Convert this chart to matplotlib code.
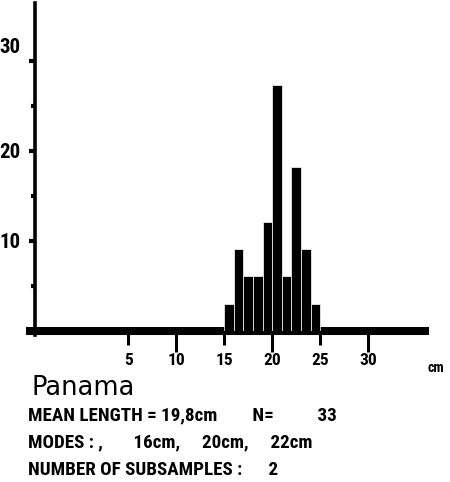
import matplotlib
matplotlib.use('Agg')
import matplotlib.pyplot as plt
from matplotlib import font_manager as fm
from matplotlib.ticker import FixedLocator, FixedFormatter
from matplotlib.transforms import ScaledTranslation

# ---- data ----
lengths_cm = [15, 16, 17, 18, 19, 20, 21, 22, 23, 24]
percent = [3.03, 9.09, 6.06, 6.06, 12.12, 27.27, 6.06, 18.18, 9.09, 3.03]
xticks_major = [10, 20, 30]
xticks_minor = [5, 15, 25]
yticks_major = [10, 20, 30]
yticks_minor = [5, 15, 25]
title = "Panama"
info_lines = ["MEAN LENGTH = 19,8cm        N=          33",
              "MODES : ,       16cm,     20cm,     22cm",
              "NUMBER OF SUBSAMPLES :      2"]
unit_label = "cm"

# pick a condensed font if one is installed
names = {f.name for f in fm.fontManager.ttflist}
cond_family = 'DejaVu Sans'
for p in ['Roboto Condensed', 'Liberation Sans Narrow', 'Open Sans Condensed']:
    if p in names:
        cond_family = p
        break

W, H = 450, 482
fig = plt.figure(figsize=(W / 100, H / 100), dpi=100)
def fx(px): return px / W
def fy(py): return 1 - py / H

ax = fig.add_axes([fx(35), fy(331), fx(425) - fx(35), fy(3) - fy(331)])
ax.set_xlim(-4.7, 35.9)
ax.set_ylim(0, 36.4)

ax.axhline(0, xmin=-0.012, xmax=1.0, color='black', lw=5.8, clip_on=False, zorder=1)
ax.bar(lengths_cm, percent, width=1, align='edge', color='black',
       edgecolor='white', linewidth=0.5, zorder=2)

for s in ['top', 'right', 'bottom']:
    ax.spines[s].set_visible(False)
ax.spines['left'].set_linewidth(2.6)
ax.spines['left'].set_bounds(-0.4, 36.4)

ax.xaxis.set_major_locator(FixedLocator(xticks_major))
ax.xaxis.set_minor_locator(FixedLocator(xticks_minor))
ax.xaxis.set_major_formatter(FixedFormatter([str(v) for v in xticks_major]))
ax.xaxis.set_minor_formatter(FixedFormatter([str(v) for v in xticks_minor]))
ax.tick_params(axis='x', which='major', direction='out', length=15, width=2.2, pad=1,
               labelsize=12.5)
ax.tick_params(axis='x', which='minor', direction='out', length=10, width=2.2, pad=6,
               labelsize=12.5)

ax.yaxis.set_major_locator(FixedLocator(yticks_major))
ax.yaxis.set_minor_locator(FixedLocator(yticks_minor))
ax.tick_params(axis='y', which='major', direction='out', length=4, width=3, pad=6.5,
               labelsize=15)
ax.tick_params(axis='y', which='minor', direction='out', length=3, width=3)

for lab in ax.get_xticklabels(which='both') + ax.get_yticklabels():
    lab.set_fontfamily(cond_family)
    lab.set_fontweight('bold')

# the top y label sits a little above its tick in the reference
yt = ax.yaxis.get_major_ticks()
yt[-1].label1.set_transform(yt[-1].label1.get_transform() +
                            ScaledTranslation(0, 15 / 100, fig.dpi_scale_trans))

fig.text(fx(428), fy(372), unit_label, fontfamily=cond_family,
         fontweight='bold', fontsize=10, va='baseline', ha='left')

fig.text(fx(31), fy(395), title, fontfamily='DejaVu Sans', fontsize=18.5,
         va='baseline', ha='left')

baselines = [420, 447, 475]
for line, b in zip(info_lines, baselines):
    fig.text(fx(28), fy(b), line, fontfamily=cond_family,
             fontweight='bold', fontsize=13.7, va='baseline', ha='left')

fig.savefig('out.png', dpi=100)
